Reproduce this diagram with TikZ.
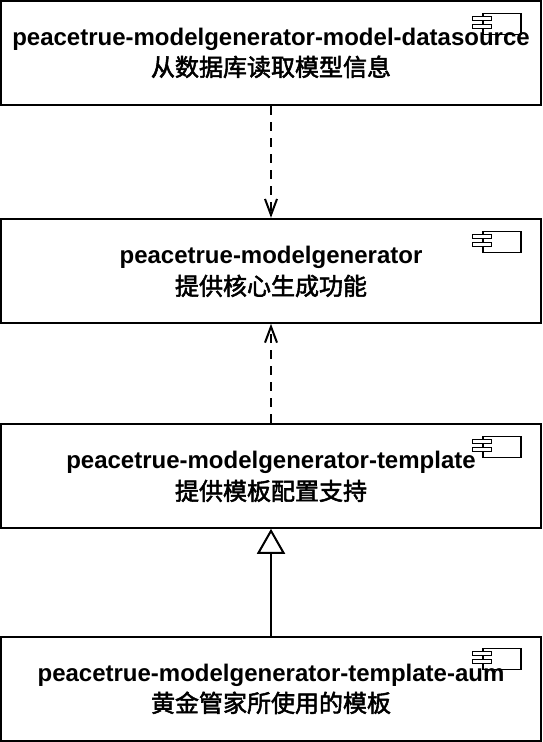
\documentclass[tikz,border=0pt]{standalone}
\usepackage{fontspec}
\setmainfont{Liberation Sans}
\newfontfamily\cjk[FakeBold=2.2]{Noto Sans CJK SC}
\usetikzlibrary{arrows.meta}
\tikzset{
  comp/.style={draw=black,line width=2pt,fill=white,minimum width=540pt,minimum height=104pt,inner sep=0pt,anchor=north west},
  lbl/.style={font=\fontsize{24}{24}\selectfont\bfseries,inner sep=0pt,anchor=base},
  sub/.style={font=\fontsize{24}{24}\selectfont\cjk,inner sep=0pt,anchor=base},
  dep/.style={line width=2pt,dash pattern=on 9pt off 7pt,-{Straight Barb[length=16pt,width=12pt,line width=2pt]}},
  ext/.style={line width=2pt,-{Triangle[open,fill=white,length=25pt,width=28pt,line width=2pt]}},
  iconbody/.style={draw=black,line width=1.6pt,fill=white,minimum width=38pt,minimum height=21pt,inner sep=0pt,anchor=north west},
  iconpin/.style={draw=black,line width=1.1pt,fill=white,minimum width=19pt,minimum height=4.2pt,inner sep=0pt,anchor=north west},
}
\newcommand{\compicon}[2]{%
  \node[iconbody] (#1b) at (482,#2+11.5) {};
  \node[iconpin] (#1p) at (472,#2+14.5) {};
  \node[iconpin] (#1q) at (472,#2+22.5) {};
}
\begin{document}
\begin{tikzpicture}[x=1pt,y=-1pt]
\useasboundingbox (0,0) rectangle (542,742);
\node[comp] (a) at (0,0.3) {};
\node[comp] (b) at (0,217.8) {};
\node[comp] (c) at (0,422.8) {};
\node[comp] (d) at (0,635.6) {};
\compicon{ia}{1}
\compicon{ib}{219}
\compicon{ic}{424}
\compicon{id}{636}
\node[lbl] (at) at (271,45) {peacetrue-modelgenerator-model-datasource};
\node[sub] (as) at (271,76) {从数据库读取模型信息};
\node[lbl] (bt) at (271,263) {peacetrue-modelgenerator};
\node[sub] (bs) at (271,295) {提供核心生成功能};
\node[lbl] (ct) at (271,468) {peacetrue-modelgenerator-template};
\node[sub] (cs) at (271,500) {提供模板配置支持};
\node[lbl] (dt) at (271,681) {peacetrue-modelgenerator-template-aum};
\node[sub] (ds) at (271,712) {黄金管家所使用的模板};
\draw[dep] (a.south) -- (b.north);
\draw[dep] (c.north) -- (b.south);
\draw[ext] (d.north) -- (c.south);
\end{tikzpicture}
\end{document}
